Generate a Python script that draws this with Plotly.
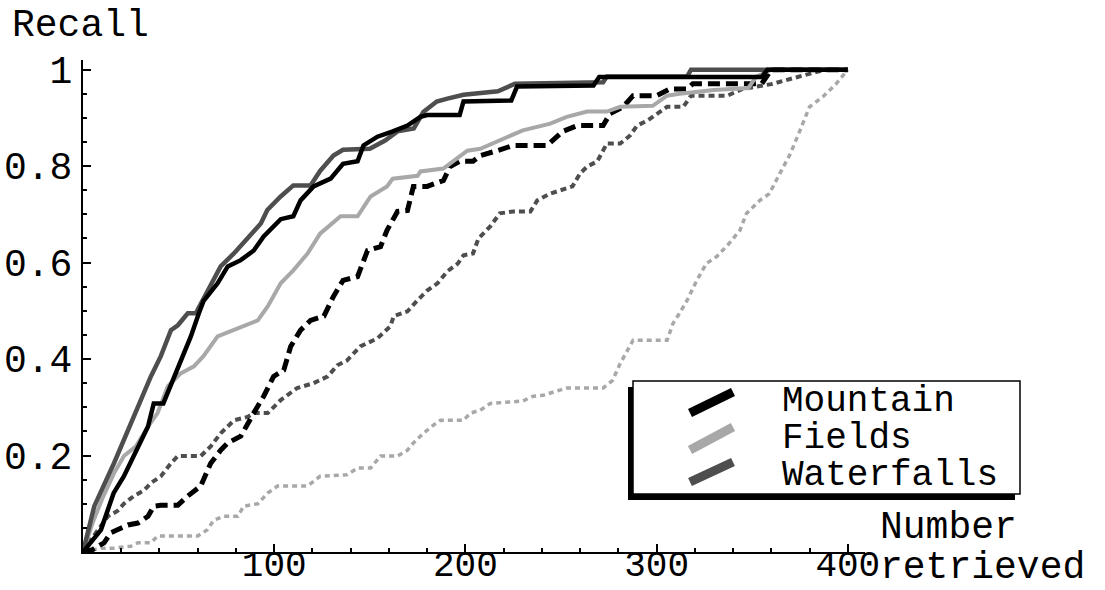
import plotly.graph_objects as go

# ---------------- data ----------------
mountain_solid_x = [0, 4, 9.4, 16, 21.4, 34, 37, 42, 51, 56.4, 60.6, 63, 70.4, 75.7, 82.5, 89.3, 94.5, 103.4, 110, 113.8,
                    120.6, 129.5, 136, 143.6, 146.7, 154, 162, 169.7, 176.5, 180, 197, 199, 224, 227, 267, 270, 355, 358, 400]
mountain_solid_y = [0, 0.02, 0.046, 0.122, 0.157, 0.26, 0.308, 0.308, 0.397, 0.447, 0.495, 0.52, 0.557, 0.592, 0.605, 0.625,
                    0.654, 0.69, 0.696, 0.729, 0.758, 0.774, 0.805, 0.81, 0.843, 0.861, 0.872, 0.884, 0.902, 0.906, 0.906,
                    0.934, 0.936, 0.965, 0.967, 0.985, 0.985, 1.0, 1.0]

waterfalls_solid_x = [0, 5.9, 16.2, 26.6, 35.5, 40.7, 46, 49.6, 54.8, 59, 61.6, 65.3, 72, 78.9, 93, 96.4, 103.4, 110, 119,
                      124, 131, 136, 150, 158, 164.5, 173, 178, 185, 190.6, 199, 217, 226, 272, 274, 316, 318, 400]
waterfalls_solid_y = [0, 0.095, 0.184, 0.282, 0.364, 0.406, 0.46, 0.47, 0.495, 0.495, 0.516, 0.542, 0.592, 0.619, 0.681,
                      0.709, 0.737, 0.76, 0.76, 0.79, 0.822, 0.834, 0.836, 0.853, 0.872, 0.878, 0.912, 0.934, 0.94, 0.948,
                      0.955, 0.971, 0.974, 0.986, 0.986, 1.0, 1.0]

fields_solid_x = [0, 5, 10, 16.2, 21.4, 27.7, 34, 39, 44.4, 51, 58, 63, 70.4, 79, 84, 91.4, 96.6, 103.4, 110, 117.5, 124,
                  134.7, 143.6, 150.4, 159, 162, 175, 176.5, 188.5, 193.7, 201, 207.8, 222, 230, 244.4, 253, 263.7, 274,
                  281, 298, 305.5, 312, 330, 348, 352, 360, 400]
fields_solid_y = [0, 0.06, 0.11, 0.163, 0.199, 0.219, 0.26, 0.288, 0.344, 0.37, 0.385, 0.406, 0.447, 0.46, 0.468, 0.48,
                  0.509, 0.557, 0.584, 0.619, 0.66, 0.696, 0.696, 0.737, 0.758, 0.774, 0.78, 0.789, 0.795, 0.81, 0.832,
                  0.836, 0.861, 0.874, 0.888, 0.902, 0.913, 0.913, 0.923, 0.925, 0.946, 0.95, 0.958, 0.962, 0.985, 1.0, 1.0]

mountain_dash_x = [0, 5, 11, 14.6, 18, 23.5, 28.7, 34, 37, 40.7, 49.6, 54.8, 61.6, 66.8, 72, 75.7, 82.5, 86, 89.3, 94.5,
                   99.7, 105, 108.6, 113.8, 119, 126, 131, 136, 143.6, 148.8, 155.6, 159, 164.5, 169.7, 172.8, 180, 188.5,
                   192, 197, 204, 207.8, 216.7, 225, 242.8, 251, 258.5, 272, 275.7, 282.5, 287.7, 300, 307, 316, 319, 355,
                   360, 400]
mountain_dash_y = [0, 0.005, 0.019, 0.04, 0.046, 0.056, 0.06, 0.074, 0.095, 0.097, 0.097, 0.116, 0.137, 0.184, 0.211,
                   0.226, 0.24, 0.267, 0.288, 0.323, 0.364, 0.377, 0.426, 0.46, 0.48, 0.489, 0.53, 0.563, 0.571, 0.625,
                   0.633, 0.667, 0.706, 0.708, 0.758, 0.758, 0.77, 0.799, 0.81, 0.81, 0.822, 0.832, 0.843, 0.843, 0.872,
                   0.884, 0.884, 0.909, 0.923, 0.946, 0.946, 0.96, 0.96, 0.971, 0.971, 1.0, 1.0]

waterfalls_dash_x = [0, 4, 9.4, 13, 18, 21.4, 26.6, 32, 35.5, 40.7, 46, 49.6, 61.6, 66.8, 72, 79, 86, 89.3, 96.6, 103.4,
                     112, 120.6, 128, 133, 138, 145, 154, 160.8, 162.5, 169.7, 175, 180, 185.4, 190.6, 196, 199, 204,
                     206.8, 213, 218, 225, 234, 237.6, 244.4, 256, 260, 263.7, 269, 274, 281, 286, 289.8, 295, 301.8,
                     305.5, 314, 318, 337, 345, 360, 375, 388, 400]
waterfalls_dash_y = [0, 0.025, 0.054, 0.074, 0.085, 0.1, 0.116, 0.128, 0.143, 0.157, 0.184, 0.199, 0.199, 0.219, 0.246,
                     0.273, 0.28, 0.288, 0.288, 0.315, 0.34, 0.35, 0.364, 0.387, 0.397, 0.426, 0.443, 0.468, 0.489, 0.499,
                     0.522, 0.542, 0.557, 0.582, 0.598, 0.615, 0.619, 0.65, 0.675, 0.702, 0.706, 0.706, 0.729, 0.743,
                     0.758, 0.785, 0.799, 0.81, 0.847, 0.847, 0.863, 0.884, 0.894, 0.913, 0.923, 0.923, 0.946, 0.946,
                     0.96, 0.97, 0.985, 1.0, 1.0]

fields_dash_x = [0, 4, 9.4, 16, 25, 28.7, 35.5, 39, 60, 65, 68.4, 73.6, 81, 84, 91.4, 96.6, 101.8, 117.5, 124, 138, 143.6,
                 150.4, 155.6, 164.5, 169.7, 172.8, 178, 183.3, 187, 199, 202.6, 207.8, 213, 230, 235.5, 240.7, 248, 253,
                 272, 277, 281, 284.6, 287.7, 305.5, 308.6, 312, 316, 321, 326, 331.6, 338, 343.6, 347, 354, 359, 364.5,
                 370, 375, 380, 387, 394, 400]
fields_dash_y = [0, 0.004, 0.008, 0.008, 0.012, 0.019, 0.019, 0.033, 0.033, 0.046, 0.066, 0.074, 0.074, 0.095, 0.1, 0.122,
                 0.137, 0.137, 0.157, 0.16, 0.174, 0.174, 0.199, 0.199, 0.211, 0.226, 0.246, 0.263, 0.273, 0.273, 0.288,
                 0.294, 0.308, 0.313, 0.323, 0.325, 0.333, 0.34, 0.34, 0.356, 0.391, 0.418, 0.439, 0.439, 0.474, 0.495,
                 0.522, 0.563, 0.598, 0.613, 0.64, 0.667, 0.702, 0.729, 0.743, 0.785, 0.826, 0.874, 0.923, 0.944, 0.971,
                 1.0]

x_tick_vals = [100, 200, 300, 400]
x_tick_text = ["100", "200", "300", "400"]
y_tick_vals = [0.2, 0.4, 0.6, 0.8, 1.0]
y_tick_text = ["0.2", "0.4", "0.6", "0.8", "1"]

legend_names = ["Mountain", "Fields", "Waterfalls"]
legend_colors = ["#000000", "#a8a8a8", "#4e4e4e"]

FONT = "Liberation Mono, Courier New, monospace"
FS = 38

# ---------------- layout geometry (pixels) ----------------
W, H = 1105, 590
L, R, T, B = 83, 240, 60, 38
PW, PH = W - L - R, H - T - B


def px(xp):
    return (xp - L) / PW


def py(yp):
    return (H - B - yp) / PH


fig = go.Figure()

traces = [
    (fields_dash_x, fields_dash_y, legend_colors[1], 3.5, "5px,4px"),
    (waterfalls_dash_x, waterfalls_dash_y, legend_colors[2], 4, "6px,4px"),
    (mountain_dash_x, mountain_dash_y, legend_colors[0], 5, "12px,6px"),
    (fields_solid_x, fields_solid_y, legend_colors[1], 4, "solid"),
    (waterfalls_solid_x, waterfalls_solid_y, legend_colors[2], 4.5, "solid"),
    (mountain_solid_x, mountain_solid_y, legend_colors[0], 4.5, "solid"),
]
for xs, ys, col, w, dash in traces:
    fig.add_trace(go.Scatter(x=xs, y=ys, mode="lines", showlegend=False,
                             line=dict(color=col, width=w, dash=dash), cliponaxis=False))

shapes = []
# legend shadow and box
shapes.append(dict(type="rect", xref="paper", yref="paper", x0=px(628), x1=px(1015), y0=py(500), y1=py(387),
                   fillcolor="black", line=dict(width=0), layer="above"))
shapes.append(dict(type="rect", xref="paper", yref="paper", x0=px(633), x1=px(1020), y0=py(494), y1=py(381),
                   fillcolor="white", line=dict(color="black", width=1.5), layer="above"))
sw = [((690, 413), (733, 392)), ((690, 450), (733, 427)), ((690, 482), (733, 462))]
for (a, b), col in zip(sw, legend_colors):
    shapes.append(dict(type="line", xref="paper", yref="paper", x0=px(a[0]), y0=py(a[1]), x1=px(b[0]), y1=py(b[1]),
                       line=dict(color=col, width=9), layer="above"))

annotations = []
for name, yc in zip(legend_names, [401, 438, 475]):
    annotations.append(dict(text=name, xref="paper", yref="paper", x=px(781), y=py(yc), xanchor="left",
                            yanchor="middle", showarrow=False, borderpad=0,
                            font=dict(family=FONT, size=36, color="black")))
annotations.append(dict(text="Recall", xref="paper", yref="paper", x=px(10), y=py(25), xanchor="left",
                        yanchor="middle", showarrow=False, font=dict(family=FONT, size=FS, color="black")))
annotations.append(dict(text="Number", xref="paper", yref="paper", x=px(879), y=py(527), xanchor="left",
                        yanchor="middle", showarrow=False, borderpad=0,
                        font=dict(family=FONT, size=38, color="black")))
annotations.append(dict(text="retrieved", xref="paper", yref="paper", x=px(879), y=py(567), xanchor="left",
                        yanchor="middle", showarrow=False, borderpad=0,
                        font=dict(family=FONT, size=38, color="black")))

fig.update_layout(
    width=W, height=H, margin=dict(l=L, r=R, t=T, b=B, autoexpand=False),
    paper_bgcolor="white", plot_bgcolor="white",
    shapes=shapes, annotations=annotations, showlegend=False,
    xaxis=dict(range=[0, 409], showgrid=False, zeroline=False, showline=True, linecolor="black", linewidth=2,
               automargin=False,
               ticks="inside", ticklen=8, tickwidth=1.5, tickcolor="black",
               tickvals=x_tick_vals, ticktext=x_tick_text, ticklabelstandoff=-21,
               tickfont=dict(family=FONT, size=36, color="black"),
               minor=dict(dtick=20, tick0=0, ticks="inside", ticklen=4, tickwidth=1.5, tickcolor="black")),
    yaxis=dict(range=[0, 1.02], showgrid=False, zeroline=False, showline=True, linecolor="black", linewidth=2,
               automargin=False,
               ticks="inside", ticklen=8, tickwidth=1.5, tickcolor="black",
               tickvals=y_tick_vals, ticktext=y_tick_text, ticklabelstandoff=1,
               tickfont=dict(family=FONT, size=FS, color="black"),
               minor=dict(dtick=0.05, tick0=0, ticks="inside", ticklen=4, tickwidth=1.5, tickcolor="black")),
)

fig.write_html("out.html")
